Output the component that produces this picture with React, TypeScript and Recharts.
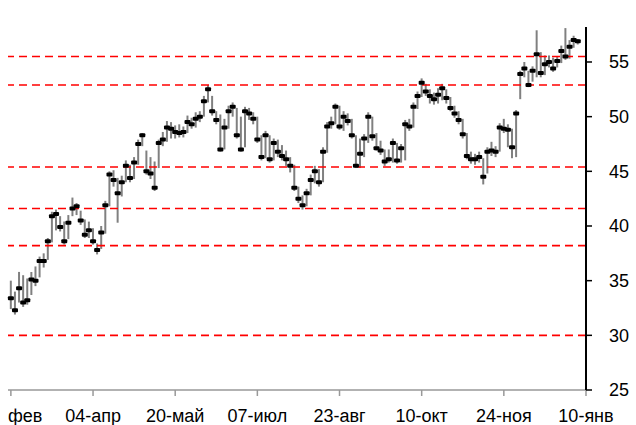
import { Bar, ComposedChart, Line, ReferenceLine, XAxis, YAxis } from "recharts";

// tick labels (every 20 trading days); the first one is cut to "фев" in the source
const tickLabels = ["фев", "04-апр", "20-май", "07-июл", "23-авг", "10-окт", "24-ноя", "10-янв"];
const tickIdx = [0, 20, 40, 60, 80, 100, 120, 140];

const closes = [
  33.4, 32.3, 34.3, 33.0, 33.2, 35.1, 35.0, 36.8, 36.8, 38.6,
  40.9, 41.1, 39.9, 38.6, 40.3, 41.6, 41.8, 40.5, 39.2, 39.6,
  38.6, 37.8, 39.4, 41.9, 44.7, 44.2, 43.0, 44.0, 45.5, 44.4,
  45.8, 47.5, 48.3, 45.0, 44.8, 43.5, 47.6, 47.9, 49.0, 48.9,
  48.6, 48.5, 48.6, 49.5, 49.3, 49.8, 50.0, 51.4, 52.5, 50.5,
  49.7, 47.0, 49.0, 50.5, 50.9, 48.3, 47.0, 50.5, 50.3, 49.8,
  47.9, 46.3, 48.3, 46.1, 47.6, 46.8, 46.4, 46.1, 45.5, 43.5,
  42.5, 41.9, 43.0, 44.2, 45.0, 44.0, 46.8, 49.1, 49.4, 50.9,
  49.1, 50.0, 49.6, 48.3, 45.5, 46.6, 48.0, 50.0, 48.2, 47.1,
  46.9, 45.9, 46.1, 47.6, 46.0, 47.1, 49.3, 49.1, 50.9, 51.9,
  53.1, 52.3, 51.9, 51.6, 52.0, 52.6, 51.7, 50.8, 50.3, 49.7,
  48.4, 46.4, 46.1, 46.1, 46.3, 44.5, 46.8, 46.9, 46.8, 49.0,
  48.9, 48.8, 47.2, 50.3, 53.9, 54.4, 52.9, 54.2, 55.7, 54.0,
  54.8, 55.0, 54.4, 55.1, 56.0, 55.5, 56.4, 57.0, 56.9,
];

const highs = [
  35.0, 34.0, 35.8, 35.5, 35.2, 35.8, 36.3, 37.2, 37.5, 38.9,
  41.3, 41.5, 40.9, 40.4, 41.0, 42.6, 42.1, 41.4, 40.6, 40.4,
  39.8, 38.4, 40.0, 42.3, 45.0, 45.1, 44.4, 44.6, 46.0, 45.6,
  46.3, 47.9, 48.5, 46.9, 46.3, 45.9, 47.9, 48.6, 49.6, 49.5,
  49.2, 49.3, 49.1, 50.1, 49.9, 50.4, 50.5, 51.9, 52.9, 51.9,
  50.5, 50.2, 49.8, 51.0, 51.3, 50.8, 50.0, 50.9, 50.8, 50.4,
  50.0, 48.3, 48.7, 48.3, 48.0, 47.9, 47.4, 46.9, 46.3, 45.6,
  43.6, 42.8, 43.4, 44.7, 45.5, 45.2, 47.2, 49.5, 50.0, 51.2,
  51.0, 50.5, 50.3, 49.8, 48.3, 48.0, 48.4, 50.4, 50.0, 48.5,
  47.8, 47.0, 47.0, 48.0, 47.6, 47.5, 49.7, 49.8, 51.3, 52.3,
  53.5, 53.0, 52.5, 52.2, 52.6, 53.0, 52.5, 51.8, 51.0, 50.5,
  49.8, 48.5, 46.8, 46.6, 46.8, 46.2, 47.2, 47.7, 47.3, 49.4,
  49.8, 49.3, 48.9, 50.6, 54.2, 55.0, 54.2, 54.6, 57.9, 55.9,
  55.6, 55.6, 55.4, 55.5, 56.5, 58.1, 57.0, 57.4, 57.1,
];

const lows = [
  32.4, 31.9, 33.0, 32.6, 32.8, 33.7, 34.5, 35.3, 36.2, 36.9,
  38.5, 39.6, 39.5, 38.3, 38.8, 40.9, 41.0, 40.1, 38.9, 38.9,
  38.3, 37.4, 37.9, 39.3, 41.8, 43.6, 40.3, 42.7, 44.0, 44.0,
  44.3, 45.6, 47.3, 44.7, 44.3, 43.2, 45.3, 47.3, 47.7, 48.0,
  48.0, 48.1, 48.1, 48.5, 48.9, 49.0, 49.5, 50.0, 51.3, 50.1,
  49.3, 46.8, 47.0, 48.9, 50.0, 48.0, 46.8, 47.2, 49.7, 49.3,
  47.6, 46.0, 46.2, 45.8, 46.0, 46.3, 46.0, 45.5, 44.9, 43.2,
  42.1, 41.5, 41.8, 42.8, 43.9, 43.6, 44.0, 46.7, 48.9, 49.3,
  48.8, 48.7, 49.2, 48.0, 45.3, 45.3, 46.3, 47.6, 47.8, 46.9,
  46.5, 45.5, 45.8, 45.8, 45.7, 45.8, 46.0, 48.7, 49.0, 50.7,
  51.8, 51.9, 51.2, 51.1, 51.2, 51.5, 51.2, 50.5, 49.9, 49.3,
  48.0, 46.1, 45.7, 45.6, 45.8, 43.8, 44.8, 46.4, 46.3, 46.8,
  48.5, 47.2, 46.2, 46.3, 51.6, 53.6, 52.7, 53.2, 53.6, 53.6,
  53.8, 54.5, 54.1, 54.5, 54.9, 55.2, 55.3, 56.3, 56.6,
];

// support / resistance levels
const levels = [30, 38.2, 41.6, 45.4, 52.9, 55.5];
const yTicks = [25, 30, 35, 40, 45, 50, 55];

const rows = closes.map((c, i) => ({ i, close: c, hl: [lows[i], highs[i]] }));

const CloseMark = (props: any) => {
  const { cx, cy, index } = props;
  if (cx == null || cy == null) return <g key={index} />;
  return <rect key={index} x={cx - 3} y={cy - 2} width={6} height={4} rx={1} fill="#000" />;
};

// the first label sits against the left edge, so it starts at the plot edge
const DateTick = (props: any) => {
  const { x, y, payload, index } = props;
  const label = tickLabels[tickIdx.indexOf(payload.value)] ?? "";
  const first = index === 0;
  return (
    <text
      x={first ? 8 : x}
      y={y}
      dy="0.71em"
      textAnchor={first ? "start" : "middle"}
      fill="#000"
      fontSize={18}
    >
      {label}
    </text>
  );
};

export default function App() {
  return (
    <div style={{ position: "absolute", left: 0, top: 0 }}>
      <ComposedChart
        width={636}
        height={425}
        data={rows}
        margin={{ top: 27, right: 0, bottom: 0, left: 8 }}
        style={{ fontFamily: "'Liberation Sans', Arial, sans-serif" }}
      >
        <XAxis
          type="number"
          dataKey="i"
          domain={[-0.7, 140]}
          ticks={tickIdx}
          interval={0}
          height={35}
          tickSize={6}
          tickMargin={13}
          axisLine={{ stroke: "#999", strokeWidth: 1.5 }}
          tickLine={{ stroke: "#999", strokeWidth: 1.5 }}
          tick={DateTick}
        />
        <YAxis
          orientation="right"
          type="number"
          domain={[25, 58.2]}
          ticks={yTicks}
          interval={0}
          width={50}
          tickSize={6}
          tickMargin={17}
          axisLine={{ stroke: "#000", strokeWidth: 2 }}
          tickLine={{ stroke: "#000", strokeWidth: 1.5 }}
          tick={{ fill: "#000", fontSize: 18 }}
        />
        {levels.map((v) => (
          <ReferenceLine key={v} y={v} stroke="#ff0000" strokeWidth={1.6} strokeDasharray="8 5" />
        ))}
        <Bar dataKey="hl" fill="#808080" barSize={2} isAnimationActive={false} />
        <Line
          dataKey="close"
          stroke="none"
          dot={CloseMark}
          activeDot={false}
          isAnimationActive={false}
        />
      </ComposedChart>
    </div>
  );
}
